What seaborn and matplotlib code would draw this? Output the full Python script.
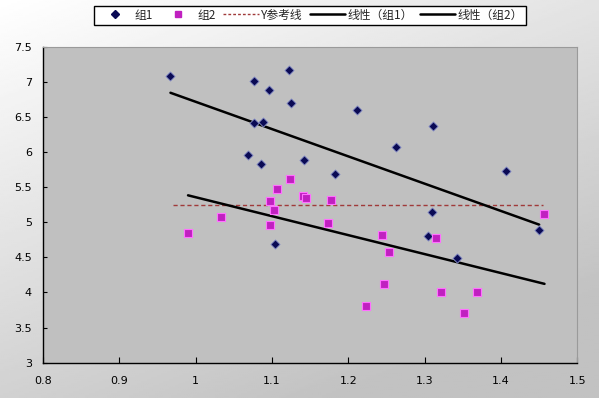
import numpy as np
import pandas as pd
import matplotlib
matplotlib.use("Agg")
import matplotlib.pyplot as plt
from matplotlib.lines import Line2D
import seaborn as sns

# group 1 (diamonds)
g1_x = [0.967, 1.076, 1.096, 1.122, 1.125, 1.076, 1.088, 1.068, 1.085, 1.142,
        1.182, 1.211, 1.263, 1.311, 1.407, 1.309, 1.305, 1.343, 1.450, 1.104]
g1_y = [7.08, 7.01, 6.88, 7.17, 6.70, 6.41, 6.43, 5.96, 5.83, 5.89,
        5.69, 6.60, 6.07, 6.37, 5.73, 5.15, 4.81, 4.49, 4.89, 4.69]

# group 2 (squares)
g2_x = [1.124, 1.106, 1.098, 1.102, 1.140, 1.145, 1.177, 1.033, 0.990, 1.097,
        1.174, 1.244, 1.253, 1.247, 1.223, 1.457, 1.315, 1.321, 1.369, 1.352]
g2_y = [5.62, 5.47, 5.31, 5.18, 5.37, 5.35, 5.32, 5.08, 4.85, 4.96,
        4.99, 4.82, 4.57, 4.12, 3.80, 5.12, 4.78, 4.01, 4.01, 3.70]

ref_y = 5.25
ref_x = [0.97, 1.455]

x_ticks = [0.8, 0.9, 1.0, 1.1, 1.2, 1.3, 1.4, 1.5]
x_labels = ["0.8", "0.9", "1", "1.1", "1.2", "1.3", "1.4", "1.5"]
y_ticks = [3, 3.5, 4, 4.5, 5, 5.5, 6, 6.5, 7, 7.5]
y_labels = ["3", "3.5", "4", "4.5", "5", "5.5", "6", "6.5", "7", "7.5"]

labels = ["组1", "组2", "Y参考线", "线性（组1）", "线性（组2）"]

df1 = pd.DataFrame({"x": g1_x, "y": g1_y})
df2 = pd.DataFrame({"x": g2_x, "y": g2_y})

sns.set_style("ticks")
plt.rcParams["font.family"] = ["Noto Sans CJK SC", "DejaVu Sans"]

fig = plt.figure(figsize=(5.99, 3.98), dpi=100)

# gradient background of the chart area
bg = fig.add_axes([0, 0, 1, 1], zorder=-5)
yy, xx = np.mgrid[0:1:200j, 0:1:300j]
shade = 1.0 - 0.24 * np.clip(0.75 * yy + 0.45 * xx, 0, 1)
bg.imshow(shade, cmap="gray", vmin=0, vmax=1, aspect="auto", extent=[0, 1, 0, 1], origin="upper")
bg.axis("off")

ax = fig.add_axes([0.0718, 0.089, 0.892, 0.793])
ax.set_facecolor("#c0c0c0")

navy = "#0a0a55"
magenta = "#c020c0"

sns.scatterplot(data=df1, x="x", y="y", ax=ax, marker="D", s=22,
                color=navy, edgecolor="#8890c8", linewidth=0.6, zorder=4)
sns.scatterplot(data=df2, x="x", y="y", ax=ax, marker="s", s=26,
                color=magenta, edgecolor="#ff70ff", linewidth=0.8, zorder=4)

sns.regplot(data=df1, x="x", y="y", ax=ax, scatter=False, ci=None, truncate=True,
            line_kws={"color": "black", "lw": 1.8, "zorder": 3})
sns.regplot(data=df2, x="x", y="y", ax=ax, scatter=False, ci=None, truncate=True,
            line_kws={"color": "black", "lw": 1.8, "zorder": 3})

ax.plot(ref_x, [ref_y, ref_y], ls=(0, (3, 2)), color="#a03a3a", lw=1.0, zorder=2)

ax.set_xlim(0.8, 1.5)
ax.set_ylim(3, 7.5)
ax.set_xticks(x_ticks)
ax.set_xticklabels(x_labels, fontsize=8, family="DejaVu Sans")
ax.set_yticks(y_ticks)
ax.set_yticklabels(y_labels, fontsize=8, family="DejaVu Sans")
ax.set_xlabel("")
ax.set_ylabel("")
ax.tick_params(axis="x", direction="in", length=4, width=0.8, pad=10, colors="black")
ax.tick_params(axis="y", direction="in", length=3, width=0.8, pad=8, colors="black")

for side in ["left", "bottom"]:
    ax.spines[side].set_color("black")
    ax.spines[side].set_linewidth(1.0)
for side in ["top", "right"]:
    ax.spines[side].set_visible(True)
    ax.spines[side].set_color("#9a9a9a")
    ax.spines[side].set_linewidth(0.8)

handles = [
    Line2D([], [], ls="none", marker="D", ms=4, color=navy),
    Line2D([], [], ls="none", marker="s", ms=5, color=magenta),
    Line2D([], [], ls=(0, (2, 1.5)), color="#a03a3a", lw=1.0),
    Line2D([], [], color="black", lw=1.8),
    Line2D([], [], color="black", lw=1.8),
]
leg = fig.legend(handles, labels, loc="center", bbox_to_anchor=(0.5175, 0.962),
                 ncol=5, fontsize=8.5, frameon=True, fancybox=False,
                 handlelength=3.0, handletextpad=0.2, columnspacing=0.6,
                 borderpad=0.25, edgecolor="black", facecolor="white", framealpha=1)
leg.get_frame().set_linewidth(1.0)

fig.savefig("out.png", dpi=100)
